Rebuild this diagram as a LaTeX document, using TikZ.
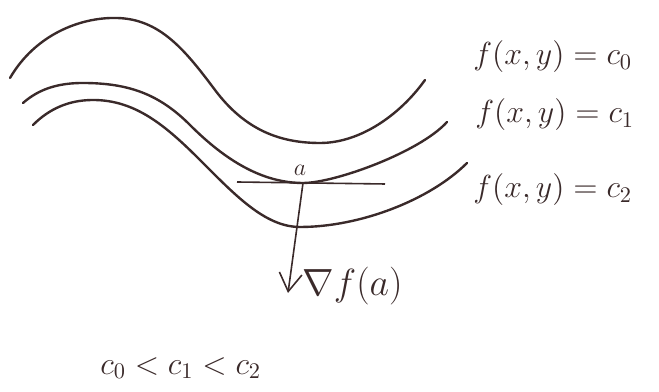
\documentclass[tikz,border=0pt]{standalone}
\usepackage{fix-cm}
\usepackage{amsmath,amssymb}
\usetikzlibrary{arrows.meta,positioning}
\definecolor{pen}{RGB}{58,42,42}
\tikzset{
  levelcurve/.style={draw=pen,line width=1.2pt,line cap=round},
  tanline/.style={draw=pen,line width=0.8pt},
  gradarrow/.style={-{Straight Barb[length=3.2mm,width=4mm]},draw=pen,line width=0.8pt},
  lvllbl/.style={text=pen,anchor=west,inner sep=0pt,font=\fontsize{16}{19}\selectfont},
  ptlbl/.style={text=pen,inner sep=1pt,font=\fontsize{12}{14}\selectfont},
}
\begin{document}
\begin{tikzpicture}[x=0.5bp,y=-0.5bp]
  \useasboundingbox (0,0) rectangle (659,392);
  % level curves
  \draw[levelcurve] (10,78) .. controls (35,35) and (80,17) .. (117,18)
    .. controls (160,19) and (185,50) .. (215,90)
    .. controls (245,130) and (280,143) .. (320,143)
    .. controls (360,143) and (400,115) .. (425,80);
  \draw[levelcurve] (23,103) .. controls (40,88) and (60,83) .. (83,83)
    .. controls (130,83) and (160,95) .. (190,125)
    .. controls (225,160) and (262,183) .. (303,183)
    .. controls (335,183) and (420,152) .. (447,122);
  \draw[levelcurve] (33,125) .. controls (50,108) and (70,100) .. (93,100)
    .. controls (135,100) and (165,125) .. (200,160)
    .. controls (235,195) and (265,227) .. (300,227)
    .. controls (360,227) and (430,200) .. (467,163);
  \node[lvllbl] (lc0) at (473,57) {$f(x,y)=c_0$};
  \node[lvllbl] (lc1) at (475,115) {$f(x,y)=c_1$};
  \node[lvllbl] (lc2) at (473,190) {$f(x,y)=c_2$};
  % tangent at a and gradient
  \coordinate (a) at (303,183);
  \coordinate (tl) at (237,182);
  \coordinate (tr) at (385,184);
  \coordinate (gtip) at (288,293);
  \node[ptlbl,anchor=south] (alab) at (300,178) {$a$};
  \draw[tanline] (tl) -- (tr);
  \draw[gradarrow] (a) -- (gtip);
  \node[lvllbl,font=\fontsize{19}{22}\selectfont] (glab) at (302,286) {$\nabla f(a)$};
  \node[lvllbl] (order) at (100,368) {$c_0<c_1<c_2$};
\end{tikzpicture}
\end{document}
